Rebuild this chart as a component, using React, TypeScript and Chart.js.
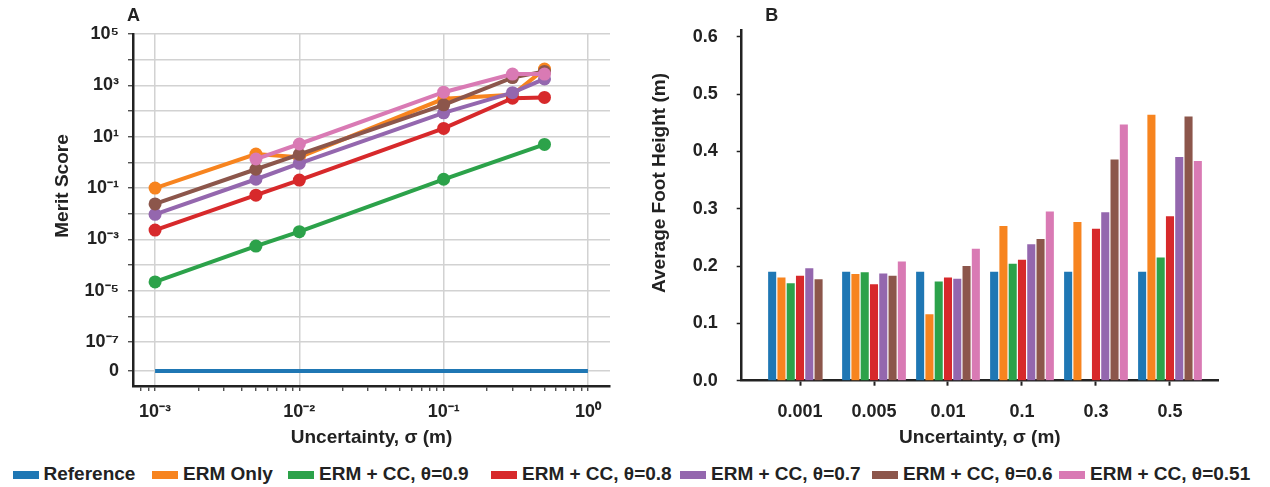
import React, { useEffect, useRef } from 'react';
import { Chart, registerables } from 'chart.js';

Chart.register(...registerables);

// ---------- shared series info ----------
const seriesNames = [
  'Reference',
  'ERM Only',
  'ERM + CC, θ=0.9',
  'ERM + CC, θ=0.8',
  'ERM + CC, θ=0.7',
  'ERM + CC, θ=0.6',
  'ERM + CC, θ=0.51',
];
const seriesColors = ['#1f77b4', '#f7841f', '#2ca24a', '#d7292b', '#9467ae', '#8c564b', '#d97ab4'];

// ---------- panel A data (merit score vs uncertainty) ----------
const sigmaValues = [0.001, 0.005, 0.01, 0.1, 0.3, 0.5];
const referenceSigma = [0.001, 1];
const referenceMerit = [0, 0];
const ermOnlyMerit = [0.1, 2.1, 1.6, 300, 430, 4300];
const cc09Merit = [2.2e-5, 5.5e-4, 0.002, 0.22, null, 5.0];
const cc08Merit = [0.0023, 0.053, 0.205, 21, 315, 340];
const cc07Merit = [0.0095, 0.22, 0.92, 85, 520, 1780];
const cc06Merit = [0.024, 0.54, 2.05, 175, 2000, 3500];
const cc051Merit = [null, 1.35, 5.2, 540, 2750, 2750];

const meritGridExponents = [-7, -6, -5, -4, -3, -2, -1, 0, 1, 2, 3, 4, 5];
const meritLabelExponents = [-7, -5, -3, -1, 1, 3, 5];
const sigmaLabelExponents = [-3, -2, -1, 0];

// ---------- panel B data (average foot height) ----------
const sigmaLabels = ['0.001', '0.005', '0.01', '0.1', '0.3', '0.5'];
const referenceHeight = [0.19, 0.19, 0.19, 0.19, 0.19, 0.19];
const ermOnlyHeight = [0.18, 0.186, 0.116, 0.27, 0.277, 0.464];
const cc09Height = [0.17, 0.189, 0.173, 0.204, null, 0.215];
const cc08Height = [0.183, 0.168, 0.18, 0.211, 0.265, 0.287];
const cc07Height = [0.196, 0.187, 0.178, 0.238, 0.294, 0.39];
const cc06Height = [0.177, 0.183, 0.2, 0.247, 0.386, 0.461];
const cc051Height = [null, 0.208, 0.23, 0.295, 0.447, 0.383];
const heightTicks = [0, 0.1, 0.2, 0.3, 0.4, 0.5, 0.6];

// ---------- helpers ----------
const FAMILY = '"Liberation Sans", Arial, Helvetica, sans-serif';
const TEXT = '#222222';
const SUP: Record<string, string> = {
  '-': '⁻', '0': '⁰', '1': '¹', '2': '²', '3': '³', '4': '⁴', '5': '⁵', '6': '⁶', '7': '⁷', '8': '⁸', '9': '⁹',
};
const sup = (n: number) => String(n).split('').map((c) => SUP[c] ?? c).join('');
const isDecade = (v: number) => {
  const l = Math.log10(v);
  return Math.abs(l - Math.round(l)) < 1e-9;
};
// the broken log axis shows "0" a little below 10^-8
const ZERO_LEVEL = Math.pow(10, -8.13);
const toLogPlot = (v: number | null) => (v === null ? null : v === 0 ? ZERO_LEVEL : v);

// panel letter and rotated y-axis title
const panelText = {
  id: 'panelText',
  afterDraw(chart: any, _args: any, opts: any) {
    const { ctx, chartArea } = chart;
    ctx.save();
    ctx.font = `bold 18px ${FAMILY}`;
    ctx.fillStyle = TEXT;
    ctx.textBaseline = 'middle';
    ctx.textAlign = 'left';
    ctx.fillText(opts.letter, chartArea.left + opts.letterDx, opts.letterY);
    ctx.font = `bold 19px ${FAMILY}`;
    ctx.textAlign = 'center';
    ctx.translate(opts.titleX, opts.titleY);
    ctx.rotate(-Math.PI / 2);
    ctx.fillText(opts.yTitle, 0, 0);
    ctx.restore();
  },
};

const tickFont = { family: FAMILY, size: 18, weight: 'bold' as const };
const titleFont = { family: FAMILY, size: 19, weight: 'bold' as const };
const axisBorder = { display: true, color: '#222222', width: 2.5 };

function MeritChart() {
  const ref = useRef<HTMLCanvasElement | null>(null);
  useEffect(() => {
    if (!ref.current) return;
    const meritSeries = [referenceMerit, ermOnlyMerit, cc09Merit, cc08Merit, cc07Merit, cc06Merit, cc051Merit];
    const datasets = meritSeries.map((vals, i) => {
      const xs = i === 0 ? referenceSigma : sigmaValues;
      return {
        label: seriesNames[i],
        data: xs.map((x, j) => ({ x, y: toLogPlot(vals[j]) })),
        borderColor: seriesColors[i],
        backgroundColor: seriesColors[i],
        borderWidth: 4,
        pointRadius: i === 0 ? 0 : 6.5,
        pointHoverRadius: 0,
        pointBorderWidth: 0,
        spanGaps: true,
        tension: 0,
        order: meritSeries.length - i,
      };
    });
    const chart = new Chart(ref.current, {
      type: 'line',
      data: { datasets: datasets as any },
      plugins: [panelText],
      options: {
        animation: false,
        responsive: false,
        events: [],
        layout: { padding: { left: 0, right: 15, top: 34, bottom: 0 } },
        plugins: {
          legend: { display: false },
          tooltip: { enabled: false },
          panelText: { letter: 'A', letterDx: -6, letterY: 16.5, yTitle: 'Merit Score', titleX: 63, titleY: 186 },
        } as any,
        scales: {
          x: {
            type: 'logarithmic',
            min: Math.pow(10, -3.153),
            max: Math.pow(10, 0.153),
            afterBuildTicks: (scale: any) => {
              const t: any[] = [];
              for (let e = -4; e <= 0; e++) {
                for (let m = 1; m <= 9; m++) {
                  const v = m * Math.pow(10, e);
                  if (v >= scale.min && v <= scale.max) t.push({ value: v });
                }
              }
              scale.ticks = t;
            },
            afterFit: (scale: any) => {
              scale.height = 64;
            },
            ticks: {
              autoSkip: false,
              maxRotation: 0,
              padding: 10,
              color: TEXT,
              font: tickFont,
              callback: (v: any) => {
                const val = Number(v);
                if (!isDecade(val)) return '';
                const e = Math.round(Math.log10(val));
                return sigmaLabelExponents.includes(e) ? '10' + sup(e) : '';
              },
            },
            grid: {
              color: (ctx: any) => (ctx.tick && isDecade(ctx.tick.value) ? '#d2d2d2' : 'rgba(0,0,0,0)'),
              lineWidth: 1.5,
              drawTicks: true,
              tickLength: 5,
              tickColor: '#333333',
              tickWidth: 1.2,
            },
            border: axisBorder,
            title: {
              display: true,
              text: 'Uncertainty, σ (m)',
              color: TEXT,
              font: titleFont,
              padding: { top: 0, bottom: 1 },
            },
          },
          y: {
            type: 'logarithmic',
            min: Math.pow(10, -8.71),
            max: 1e5,
            afterBuildTicks: (scale: any) => {
              const t = [{ value: ZERO_LEVEL }].concat(meritGridExponents.map((e) => ({ value: Math.pow(10, e) })));
              scale.ticks = t;
            },
            afterFit: (scale: any) => {
              scale.width = 133;
            },
            ticks: {
              autoSkip: false,
              padding: 9,
              color: TEXT,
              font: tickFont,
              callback: (v: any) => {
                const val = Number(v);
                if (val === ZERO_LEVEL) return '0';
                const e = Math.round(Math.log10(val));
                return meritLabelExponents.includes(e) ? '10' + sup(e) : '';
              },
            },
            grid: {
              color: '#d2d2d2',
              lineWidth: 1.5,
              drawTicks: true,
              tickLength: 5,
              tickColor: '#333333',
              tickWidth: 1.2,
            },
            border: axisBorder,
            title: { display: false },
          },
        },
      } as any,
    });
    return () => chart.destroy();
  }, []);
  return <canvas ref={ref} width={625} height={450} style={{ display: 'block' }} />;
}

function HeightChart() {
  const ref = useRef<HTMLCanvasElement | null>(null);
  useEffect(() => {
    if (!ref.current) return;
    const heightSeries = [referenceHeight, ermOnlyHeight, cc09Height, cc08Height, cc07Height, cc06Height, cc051Height];
    const datasets = heightSeries.map((vals, i) => ({
      label: seriesNames[i],
      data: vals.map((y, j) => ({ x: j, y })),
      backgroundColor: seriesColors[i],
      borderWidth: 0,
      categoryPercentage: 0.878,
      barPercentage: 0.87,
    }));
    const chart = new Chart(ref.current, {
      type: 'bar',
      data: { datasets: datasets as any },
      plugins: [panelText],
      options: {
        animation: false,
        responsive: false,
        events: [],
        layout: { padding: { left: 0, right: 52, top: 8.5, bottom: 0 } },
        plugins: {
          legend: { display: false },
          tooltip: { enabled: false },
          panelText: {
            letter: 'B',
            letterDx: 23.5,
            letterY: 16.5,
            yTitle: 'Average Foot Height (m)',
            titleX: 35,
            titleY: 183,
          },
        } as any,
        scales: {
          x: {
            type: 'linear',
            min: -0.788,
            max: 5.649,
            offset: false,
            afterBuildTicks: (scale: any) => {
              scale.ticks = sigmaLabels.map((_, j) => ({ value: j }));
            },
            afterFit: (scale: any) => {
              scale.height = 69.3;
            },
            ticks: {
              autoSkip: false,
              maxRotation: 0,
              padding: 16,
              color: TEXT,
              font: tickFont,
              callback: (v: any) => sigmaLabels[Number(v)] ?? '',
            },
            grid: {
              offset: false,
              drawOnChartArea: false,
              drawTicks: true,
              tickLength: 5,
              tickColor: '#222222',
              tickWidth: 2,
            },
            border: axisBorder,
            title: {
              display: true,
              text: 'Uncertainty, σ (m)',
              color: TEXT,
              font: titleFont,
              padding: { top: 0, bottom: 1 },
            },
          },
          y: {
            type: 'linear',
            min: 0,
            max: 0.612,
            afterBuildTicks: (scale: any) => {
              scale.ticks = heightTicks.map((v) => ({ value: v }));
            },
            afterFit: (scale: any) => {
              scale.width = 116.7;
            },
            ticks: {
              autoSkip: false,
              padding: 19,
              color: TEXT,
              font: tickFont,
              callback: (v: any) => Number(v).toFixed(1),
            },
            grid: {
              drawOnChartArea: false,
              drawTicks: true,
              tickLength: 5,
              tickColor: '#222222',
              tickWidth: 1.5,
            },
            border: axisBorder,
            title: { display: false },
          },
        },
      } as any,
    });
    return () => chart.destroy();
  }, []);
  return <canvas ref={ref} width={645} height={450} style={{ display: 'block' }} />;
}

const legendLeft = [12.5, 152, 288, 491, 680, 872, 1059];

function Legend() {
  return (
    <>
      {seriesNames.map((name, i) => (
        <div
          key={name}
          style={{
            position: 'absolute',
            left: legendLeft[i],
            top: 462,
            height: 24,
            display: 'flex',
            alignItems: 'center',
            whiteSpace: 'nowrap',
            font: `bold 19px ${FAMILY}`,
            color: TEXT,
          }}
        >
          <span
            style={{
              display: 'inline-block',
              width: 26,
              height: 8,
              marginTop: 2,
              marginRight: 5,
              background: seriesColors[i],
            }}
          />
          <span>{name}</span>
        </div>
      ))}
    </>
  );
}

export default function App() {
  return (
    <div
      style={{
        position: 'fixed',
        left: 0,
        top: 0,
        width: 1270,
        height: 487,
        background: '#ffffff',
        overflow: 'hidden',
      }}
    >
      <div style={{ position: 'absolute', left: 0, top: 0 }}>
        <MeritChart />
      </div>
      <div style={{ position: 'absolute', left: 625, top: 0 }}>
        <HeightChart />
      </div>
      <Legend />
    </div>
  );
}
